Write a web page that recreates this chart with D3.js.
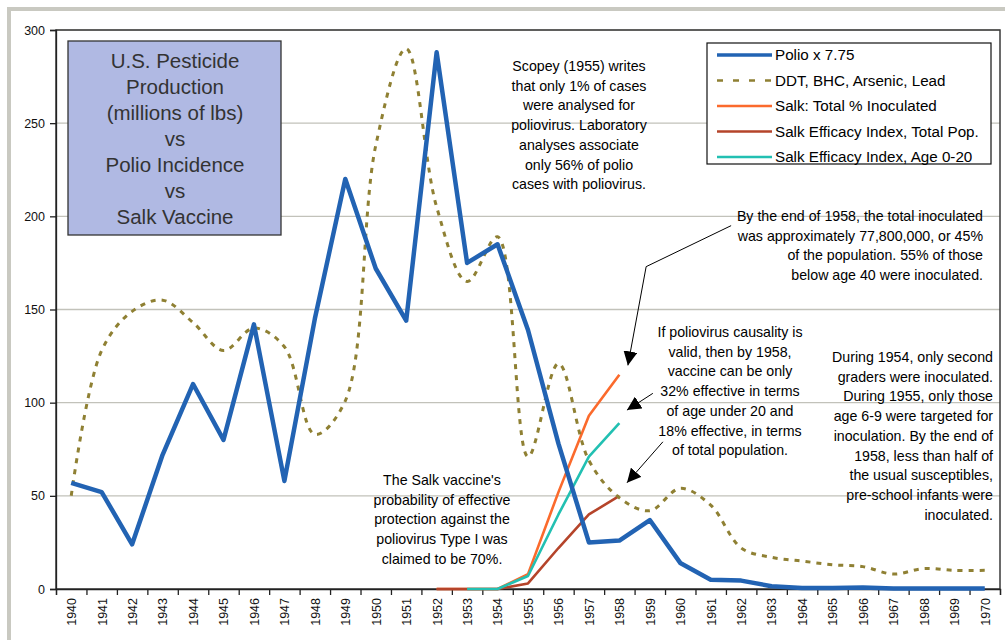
<!DOCTYPE html>
<html>
<head>
<meta charset="utf-8">
<script src="https://cdn.jsdelivr.net/npm/d3@7"></script>
<style>
  body { margin: 0; background: #fff; }
  text { font-family: "Liberation Sans", Arial, sans-serif; }
</style>
</head>
<body>
<div id="chart"></div>
<script>
// categories and series
var years = [1940, 1941, 1942, 1943, 1944, 1945, 1946, 1947, 1948, 1949, 1950,
             1951, 1952, 1953, 1954, 1955, 1956, 1957, 1958, 1959, 1960,
             1961, 1962, 1963, 1964, 1965, 1966, 1967, 1968, 1969, 1970];
var polio = [57, 52, 24, 72, 110, 80, 142, 58, 145, 220, 172,
             144, 288, 175, 185, 139, 78, 25, 26, 37, 14,
             5, 4.5, 1.5, 0.5, 0.5, 0.8, 0.3, 0.3, 0.3, 0.3];
var pesticide = [50, 128, 149, 155, 143, 128, 140, 130, 83, 101, 238,
                 290, 205, 165, 189, 71, 121, 69, 49, 42, 54,
                 45, 22, 17, 15, 13, 12, 8, 11, 10, 10];
var salkYears = [1952, 1953, 1954, 1955, 1956, 1957, 1958];
var salkTotal = [0, 0, 0, 8, 52, 93, 115];
var salkEffTotal = [0, 0, 0, 3, 22, 40, 50];
var salk20Years = [1953, 1954, 1955, 1956, 1957, 1958];
var salkEff20 = [0, 0, 7, 40, 71, 89];
var yTicks = [0, 50, 100, 150, 200, 250, 300];

var titleLines = ["U.S. Pesticide", "Production", "(millions of lbs)", "vs", "Polio Incidence", "vs", "Salk Vaccine"];
var noteScopey = ["Scopey (1955) writes", "that only 1% of cases", "were analysed for",
  "poliovirus. Laboratory", "analyses associate", "only 56% of polio", "cases with poliovirus."];
var noteTotal = ["By the end of 1958, the total inoculated", "was approximately 77,800,000, or 45%",
  "of the population. 55% of those", "below age 40 were inoculated."];
var noteCausal = ["If poliovirus causality is", "valid, then by 1958,", "vaccine can be only",
  "32% effective in terms", "of age under 20 and", "18% effective, in terms", "of total population."];
var note1954 = ["During 1954, only second", "graders were inoculated.", "During 1955, only those",
  "age 6-9 were targeted for", "inoculation. By the end of", "1958, less than half of",
  "the usual susceptibles,", "pre-school infants were", "inoculated."];
var noteSalk = ["The Salk vaccine's", "probability of effective", "protection against the",
  "poliovirus Type I was", "claimed to be 70%."];

// arrows in data units [year, value]
var arrows = [
  [[1961.67, 195], [1958.88, 173], [1958.28, 120]],
  [[1959.1, 105], [1958.25, 96]],
  [[1959.43, 79], [1958.25, 57]]
];

var W = 1005, H = 640;
var plot = {left: 56, right: 1000, top: 30, bottom: 589};

var x = d3.scaleLinear().domain([1939.5, 1970.5]).range([plot.left, plot.right]);
var y = d3.scaleLinear().domain([0, 300]).range([plot.bottom, plot.top]);

var svg = d3.select("#chart").append("svg")
  .attr("width", W)
  .attr("height", H);

// chart area frame (only top/left visible)
svg.append("rect")
  .attr("x", 9).attr("y", 9)
  .attr("width", W + 20).attr("height", H + 20)
  .attr("fill", "#fff")
  .attr("stroke", "#c9c9c1")
  .attr("stroke-width", 4);

svg.append("defs").append("marker")
  .attr("id", "head")
  .attr("markerUnits", "userSpaceOnUse")
  .attr("markerWidth", 14).attr("markerHeight", 14)
  .attr("viewBox", "0 0 10 10")
  .attr("refX", 10).attr("refY", 5)
  .attr("orient", "auto")
  .append("path")
  .attr("d", "M0,0 L10,5 L0,10 z")
  .attr("fill", "#000");

// gridlines
svg.append("g")
  .selectAll("line")
  .data(yTicks.filter(d => d > 0))
  .join("line")
  .attr("x1", plot.left).attr("x2", plot.right)
  .attr("y1", d => y(d)).attr("y2", d => y(d))
  .attr("stroke", "#c2c2ba")
  .attr("stroke-width", 1.3);

// plot border
svg.append("rect")
  .attr("x", plot.left).attr("y", plot.top)
  .attr("width", plot.right - plot.left)
  .attr("height", plot.bottom - plot.top)
  .attr("fill", "none")
  .attr("stroke", "#3a3a3a")
  .attr("stroke-width", 1.5);

// y axis
var leftAxis = d3.axisLeft(y).tickValues(yTicks).tickSize(6).tickPadding(5);
var gy = svg.append("g")
  .attr("transform", `translate(${plot.left}, 0)`)
  .call(leftAxis);
gy.select(".domain").attr("stroke", "#222").attr("stroke-width", 1.3);
gy.selectAll(".tick line").attr("stroke", "#222").attr("stroke-width", 1.3);
gy.selectAll("text").attr("font-size", 12.5).attr("fill", "#111")
  .style("font-family", "'Liberation Sans', Arial, sans-serif");

// x axis: ticks on category boundaries, labels in the middle
var bounds = years.map(d => d - 0.5).concat([years[years.length - 1] + 0.5]);
var gxTicks = svg.append("g")
  .attr("transform", `translate(0, ${plot.bottom})`)
  .call(d3.axisBottom(x).tickValues(bounds).tickFormat("").tickSize(6));
gxTicks.select(".domain").attr("stroke", "#222").attr("stroke-width", 1.3);
gxTicks.selectAll(".tick line").attr("stroke", "#222").attr("stroke-width", 1.3);

var gxLabels = svg.append("g")
  .attr("transform", `translate(0, ${plot.bottom})`)
  .call(d3.axisBottom(x).tickValues(years).tickFormat(d3.format("d")).tickSize(0));
gxLabels.select(".domain").remove();
gxLabels.selectAll("text")
  .attr("font-size", 12.5).attr("fill", "#111")
  .style("font-family", "'Liberation Sans', Arial, sans-serif")
  .attr("text-anchor", "end")
  .attr("transform", "rotate(-90)")
  .attr("x", -9).attr("y", 0).attr("dy", "0.35em");

// series lines
var line = d3.line()
  .x(d => x(d[0]))
  .y(d => y(d[1]));
var smooth = d3.line()
  .x(d => x(d[0]))
  .y(d => y(d[1]))
  .curve(d3.curveCatmullRom.alpha(0.5));

var series = [
  {name: "Salk: Total % Inoculated", color: "#fb6a2c", width: 2.6, dash: null,
   pts: d3.zip(salkYears, salkTotal), gen: line},
  {name: "Salk Efficacy Index, Total Pop.", color: "#b5442a", width: 2.6, dash: null,
   pts: d3.zip(salkYears, salkEffTotal), gen: line},
  {name: "Salk Efficacy Index, Age 0-20", color: "#22c0b2", width: 2.6, dash: null,
   pts: d3.zip(salk20Years, salkEff20), gen: line},
  {name: "DDT, BHC, Arsenic, Lead", color: "#8f8033", width: 3, dash: "5,6",
   pts: d3.zip(years, pesticide), gen: smooth},
  {name: "Polio x 7.75", color: "#2263b3", width: 4.5, dash: null,
   pts: d3.zip(years, polio), gen: line}
];

svg.append("g")
  .selectAll("path")
  .data(series)
  .join("path")
  .attr("d", d => d.gen(d.pts))
  .attr("fill", "none")
  .attr("stroke", d => d.color)
  .attr("stroke-width", d => d.width)
  .attr("stroke-dasharray", d => d.dash)
  .attr("stroke-linejoin", "round");

// title box
svg.append("rect")
  .attr("x", 68).attr("y", 41)
  .attr("width", 213).attr("height", 194)
  .attr("fill", "#b0b9e3")
  .attr("stroke", "#333")
  .attr("stroke-width", 1.3);
svg.append("text")
  .attr("text-anchor", "middle")
  .attr("font-size", 20.5)
  .attr("fill", "#333")
  .selectAll("tspan")
  .data(titleLines)
  .join("tspan")
  .attr("x", 175)
  .attr("y", (d, i) => 68 + i * 26)
  .text(d => d);

// legend
var legendOrder = [series[4], series[3], series[0], series[1], series[2]];
svg.append("rect")
  .attr("x", 707).attr("y", 43)
  .attr("width", 284).attr("height", 121)
  .attr("fill", "#fff")
  .attr("stroke", "#111")
  .attr("stroke-width", 1.2);
var leg = svg.append("g")
  .selectAll("g")
  .data(legendOrder)
  .join("g")
  .attr("transform", (d, i) => `translate(717, ${55 + i * 25.5})`);
leg.append("line")
  .attr("x1", 0).attr("x2", 55)
  .attr("stroke", d => d.color)
  .attr("stroke-width", d => d.name.startsWith("Polio") ? 3.5 : 2.5)
  .attr("stroke-dasharray", d => d.dash ? "6,10" : null);
leg.append("text")
  .attr("x", 58)
  .attr("dy", "0.36em")
  .attr("font-size", 15.2)
  .attr("fill", "#000")
  .text(d => d.name);

// notes
function note(lines, xPos, yTop, anchor) {
  svg.append("text")
    .attr("text-anchor", anchor)
    .attr("font-size", 14.2)
    .attr("fill", "#000")
    .selectAll("tspan")
    .data(lines)
    .join("tspan")
    .attr("x", xPos)
    .attr("y", (d, i) => yTop + i * 19.7)
    .text(d => d);
}
note(noteScopey, 579, 71, "middle");
note(noteTotal, 983, 221, "end");
note(noteCausal, 730, 337, "middle");
note(note1954, 993, 362, "end");
note(noteSalk, 442, 485, "middle");

// arrows
svg.append("g")
  .selectAll("path")
  .data(arrows)
  .join("path")
  .attr("d", d => line(d))
  .attr("fill", "none")
  .attr("stroke", "#000")
  .attr("stroke-width", 1)
  .attr("marker-end", "url(#head)");
</script>
</body>
</html>
